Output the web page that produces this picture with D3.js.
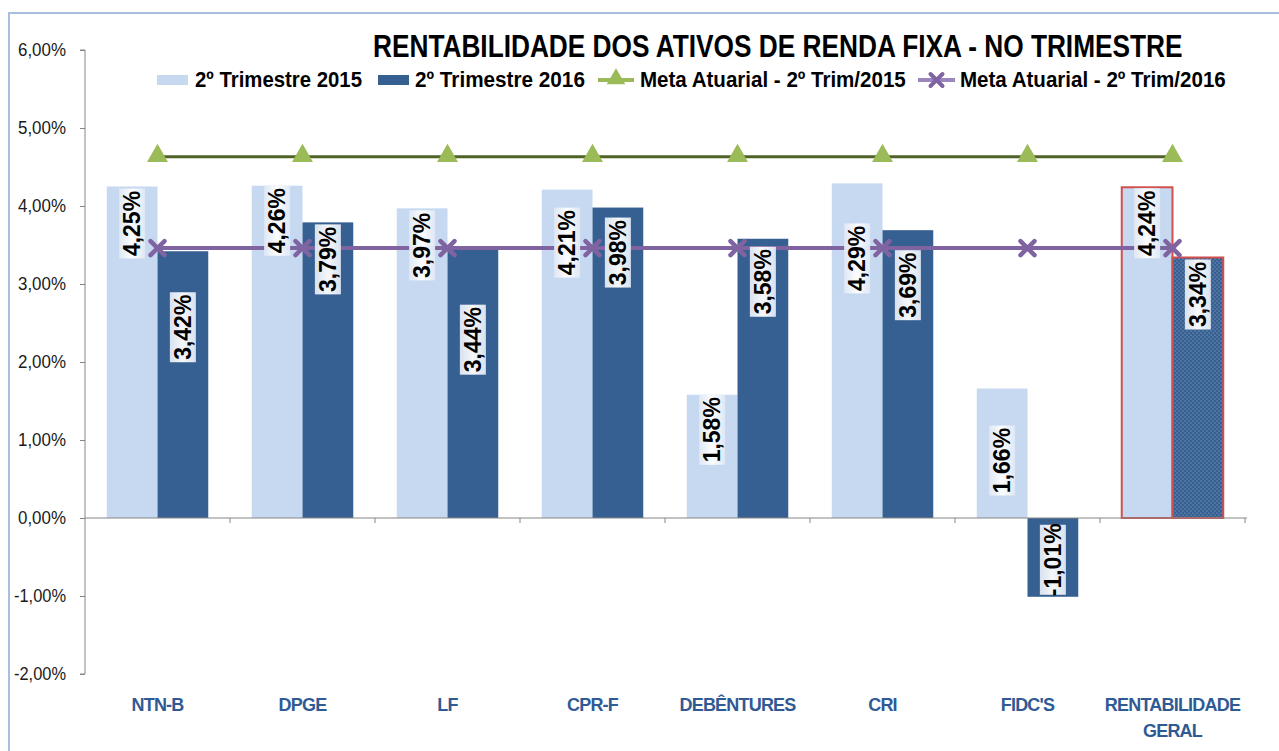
<!DOCTYPE html>
<html><head><meta charset="utf-8">
<script src="https://cdn.jsdelivr.net/npm/d3@7"></script>
<style>
html,body{margin:0;padding:0;background:#fff;}
svg{display:block;}
</style></head>
<body>
<svg id="chart" width="1279" height="751"></svg>
<script>
// ---- data ----
const categories = ["NTN-B","DPGE","LF","CPR-F","DEBÊNTURES","CRI","FIDC'S","RENTABILIDADE GERAL"];
const trim2015 = [4.25, 4.26, 3.97, 4.21, 1.58, 4.29, 1.66, 4.24];
const trim2016 = [3.42, 3.79, 3.44, 3.98, 3.58, 3.69, -1.01, 3.34];
const meta2015 = [4.63, 4.63, 4.63, 4.63, 4.63, 4.63, 4.63, 4.63];
const meta2016 = [3.46, 3.46, 3.46, 3.46, 3.46, 3.46, 3.46, 3.46];
const yTicks = [-2, -1, 0, 1, 2, 3, 4, 5, 6];
const seriesNames = ["2º Trimestre 2015","2º Trimestre 2016","Meta Atuarial - 2º Trim/2015","Meta Atuarial - 2º Trim/2016"];
const titleText = "RENTABILIDADE DOS ATIVOS DE RENDA FIXA - NO TRIMESTRE";
// manual label nudges (px down from inside-end position)
const nudge2015 = [2, 0, 2, 18, 0, 40, 37, 1];
const nudge2016 = [41, 2, 55, 10, 8, 20, 0, 2];

// ---- style ----
const C_LIGHT = "#c6d9f1", C_DARK = "#376092", C_GREEN_LINE = "#4f6228", C_GREEN_MK = "#9bbb59",
      C_PURPLE = "#8064a2", C_AXIS = "#868686", C_CAT = "#2f5a94", C_RED = "#d0504d";
const SANS = "'Liberation Sans',Arial,sans-serif";

const svg = d3.select("#chart");
const defs = svg.append("defs");
const pat = defs.append("pattern").attr("id","dots").attr("patternUnits","userSpaceOnUse")
  .attr("width",4).attr("height",4);
pat.append("rect").attr("width",4).attr("height",4).attr("fill",C_DARK);
pat.append("circle").attr("cx",1).attr("cy",1).attr("r",0.6).attr("fill","#9fb6d6");
pat.append("circle").attr("cx",3).attr("cy",3).attr("r",0.6).attr("fill","#9fb6d6");
const lg = defs.append("linearGradient").attr("id","lblgrad").attr("x1","0").attr("x2","1").attr("y1","0").attr("y2","0");
lg.append("stop").attr("offset","0").attr("stop-color","#dfe8f4");
lg.append("stop").attr("offset","0.5").attr("stop-color","#ffffff");
lg.append("stop").attr("offset","1").attr("stop-color","#dfe8f4");

// narrow text helper: draws text and squeezes horizontally to a target width
function narrowText(sel, str, x0, y0, size, targetW, anchor, fill, bold) {
  const g = sel.append("g");
  const t = g.append("text").attr("font-family", SANS).attr("font-size", size)
    .attr("font-weight", bold ? "bold" : "normal").attr("fill", fill).attr("text-anchor", anchor).text(str);
  const w = t.node().getComputedTextLength();
  const k = targetW ? targetW / w : 1;
  g.attr("transform", `translate(${x0},${y0}) scale(${k},1)`);
  return g;
}

// outer border
svg.append("path").attr("d","M9,751 L9,13 L1279,13").attr("fill","none").attr("stroke","#a7c0de").attr("stroke-width",2);

const plotL = 85, plotR = 1245, plotT = 50, plotB = 674;
const y = d3.scaleLinear().domain([-2, 6]).range([plotB, plotT]);
const x = d3.scaleBand().domain(categories).range([plotL, plotR]).padding(0);
const x1 = d3.scaleBand().domain([0,1]).range([x.bandwidth()*0.15, x.bandwidth()*0.85]).padding(0);

// y axis
const fmt = d => d3.format(".2f")(d).replace(".", ",").replace("−", "-") + "%";
const yAxis = d3.axisLeft(y).tickValues(yTicks).tickSize(5).tickFormat("");
const gy = svg.append("g").attr("transform", `translate(${plotL},0)`).call(yAxis);
gy.select(".domain").attr("stroke", C_AXIS).attr("d", `M-5,${plotT}H0V${plotB}H-5`);
gy.selectAll(".tick line").attr("stroke", C_AXIS);
yTicks.forEach(v => {
  const s = fmt(v);
  narrowText(svg, s, 66, y(v) + 6, 18, v < 0 ? 52 : 48, "end", "#1a1a1a", false);
});

// bars
const g = svg.append("g");
categories.forEach((c, i) => {
  const x0 = x(c);
  const last = i === categories.length - 1;
  [trim2015[i], trim2016[i]].forEach((v, s) => {
    const bx = x0 + x1(s), bw = x1.bandwidth();
    const top = y(Math.max(0, v)), h = Math.abs(y(v) - y(0));
    g.append("rect").attr("x", bx).attr("y", top).attr("width", bw).attr("height", h)
      .attr("fill", s === 0 ? C_LIGHT : (last ? "url(#dots)" : C_DARK))
      .attr("stroke", last ? C_RED : "none").attr("stroke-width", last ? 2 : 0);
  });
});

// x axis
svg.append("line").attr("x1", plotL).attr("x2", plotR + 2).attr("y1", y(0)).attr("y2", y(0)).attr("stroke", C_AXIS);
categories.forEach((c) => {
  const tx = x(c) + x.bandwidth();
  svg.append("line").attr("x1", tx).attr("x2", tx).attr("y1", y(0)).attr("y2", y(0) + 5).attr("stroke", C_AXIS);
});
// category labels
categories.forEach((c) => {
  const cx = x(c) + x.bandwidth() / 2;
  const words = c === "RENTABILIDADE GERAL" ? ["RENTABILIDADE", "GERAL"] : [c];
  words.forEach((w, k) => {
    svg.append("text").attr("x", cx).attr("y", 711 + k * 26).attr("text-anchor", "middle")
      .attr("font-family", SANS).attr("font-weight", "bold").attr("font-size", 18)
      .attr("fill", C_CAT).attr("letter-spacing", -0.8).text(w);
  });
});

// lines
const cxOf = (i) => x(categories[i]) + x.bandwidth() / 2;
const line = d3.line().x((d, i) => cxOf(i)).y(d => y(d));
svg.append("path").datum(meta2015).attr("d", line).attr("fill", "none").attr("stroke", C_GREEN_LINE).attr("stroke-width", 3);
svg.append("path").datum(meta2016).attr("d", line).attr("fill", "none").attr("stroke", C_PURPLE).attr("stroke-width", 4);
const tri = d3.symbol().type(d3.symbolTriangle).size(190);
meta2015.forEach((v, i) => {
  svg.append("path").attr("d", tri()).attr("transform", `translate(${cxOf(i)},${y(v) - 1})`).attr("fill", C_GREEN_MK);
});
const drawX = (sel, cx, cy, r, sw) => {
  sel.append("path").attr("d", `M${cx - r},${cy - r}L${cx + r},${cy + r}M${cx - r},${cy + r}L${cx + r},${cy - r}`)
    .attr("stroke", C_PURPLE).attr("stroke-width", sw).attr("stroke-linecap", "round");
};
meta2016.forEach((v, i) => drawX(svg, cxOf(i), y(v), 7, 4.5));

// data labels
const BOXH = 70, BOXW = 26;
function dataLabel(i, s, v, nudge) {
  const bx = x(categories[i]) + x1(s) + x1.bandwidth() / 2;
  let cy;
  if (v >= 0) cy = y(v) + nudge + BOXH / 2;
  else cy = y(v) - 2 - nudge - BOXH / 2;
  svg.append("rect").attr("x", bx - BOXW / 2).attr("y", cy - BOXH / 2).attr("width", BOXW).attr("height", BOXH)
    .attr("fill", "url(#lblgrad)").attr("opacity", 0.95);
  svg.append("text").attr("transform", `translate(${bx},${cy}) rotate(-90)`)
    .attr("text-anchor", "middle").attr("dy", "0.36em")
    .attr("font-family", SANS).attr("font-weight", "bold").attr("font-size", 23).attr("fill", "#000")
    .text(fmt(v));
}
trim2015.forEach((v, i) => dataLabel(i, 0, v, nudge2015[i]));
trim2016.forEach((v, i) => dataLabel(i, 1, v, nudge2016[i]));

// title
narrowText(svg, titleText, 373, 57, 32, 810, "start", "#000", true);

// legend
const leg = svg.append("g");
const legTxt = [[195, 167], [415, 170], [640, 266], [960, 266]];
const legY = 87;
leg.append("rect").attr("x", 157).attr("y", 75).attr("width", 31).attr("height", 10).attr("fill", C_LIGHT);
leg.append("rect").attr("x", 378).attr("y", 75).attr("width", 31).attr("height", 10).attr("fill", C_DARK);
leg.append("line").attr("x1", 598).attr("x2", 634).attr("y1", 80).attr("y2", 80).attr("stroke", C_GREEN_MK).attr("stroke-width", 4);
leg.append("path").attr("d", d3.symbol().type(d3.symbolTriangle).size(150)()).attr("transform", "translate(616,79)").attr("fill", C_GREEN_MK);
leg.append("line").attr("x1", 918).attr("x2", 955).attr("y1", 80).attr("y2", 80).attr("stroke", "#9d86c0").attr("stroke-width", 4);
drawX(leg, 936.5, 80, 6, 4);
seriesNames.forEach((n, k) => {
  narrowText(leg, n, legTxt[k][0], legY, 22, legTxt[k][1], "start", "#000", true);
});
</script>
</body></html>
